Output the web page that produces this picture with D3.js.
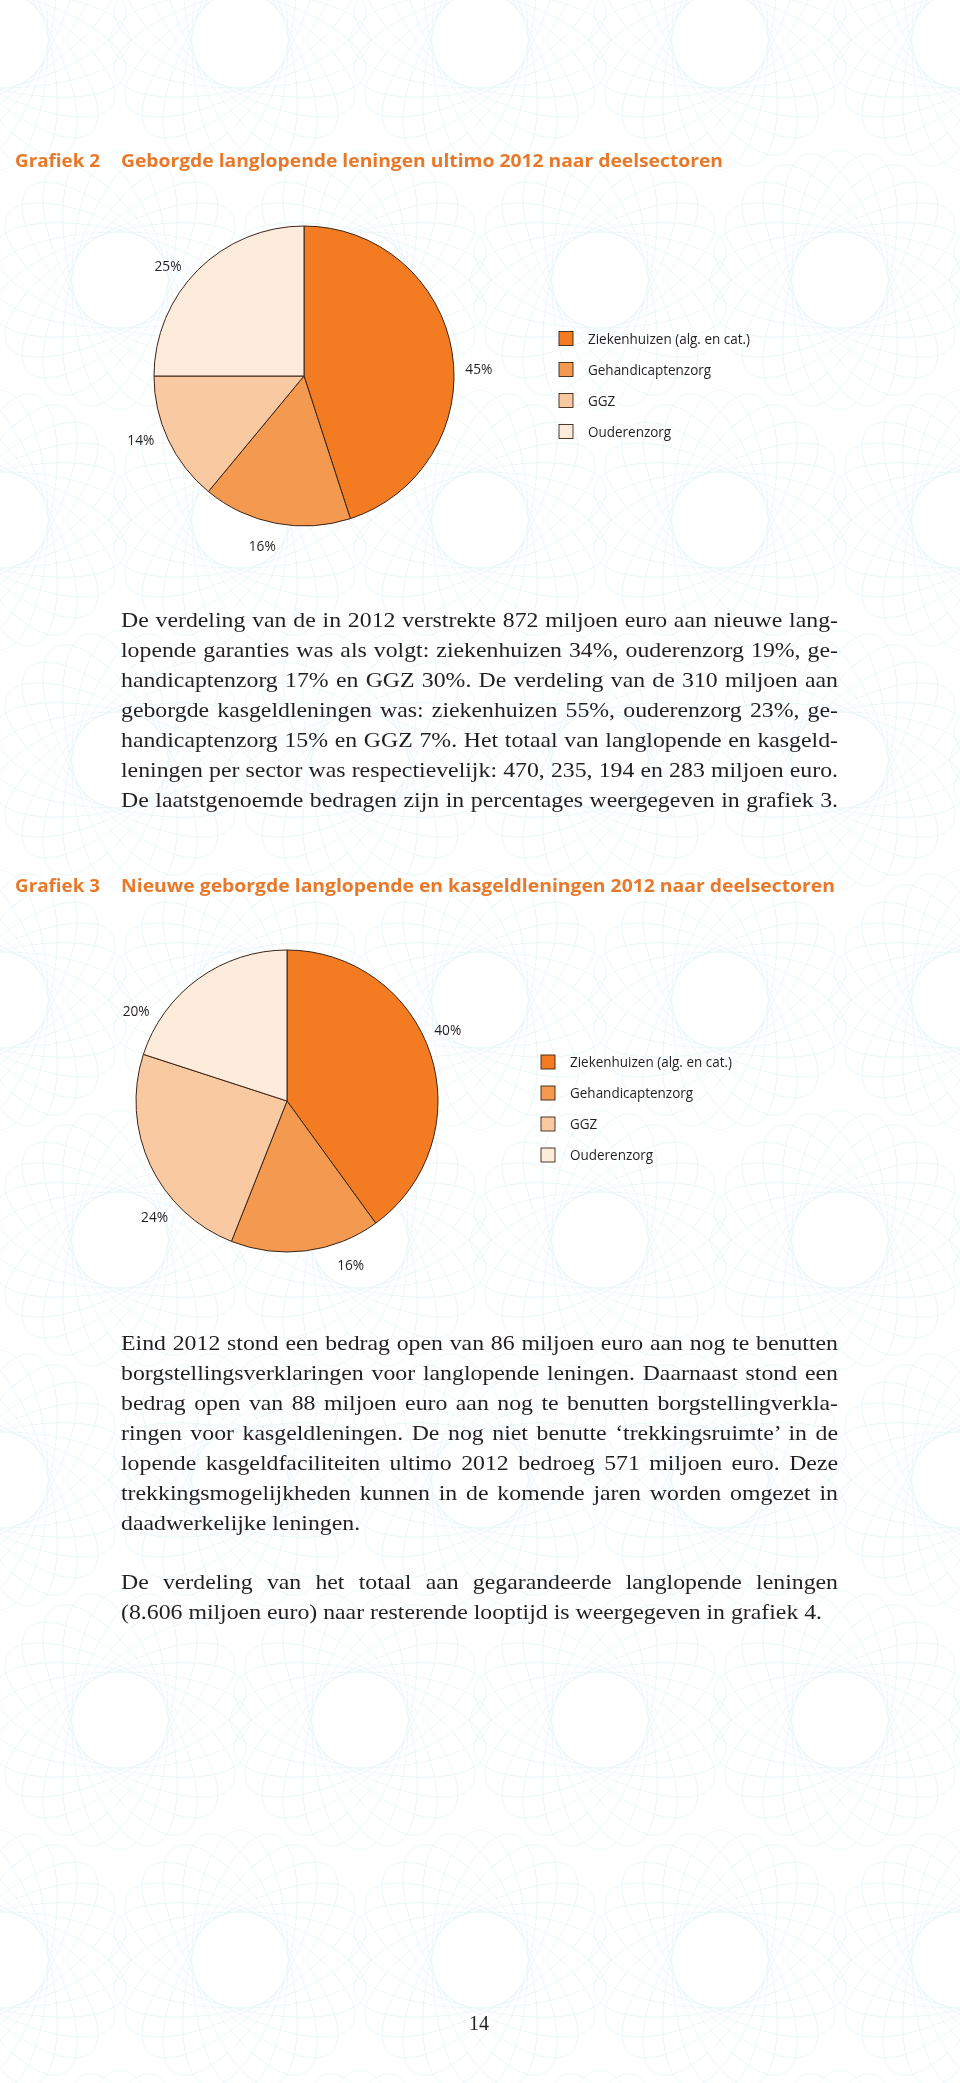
<!DOCTYPE html>
<html><head><meta charset="utf-8">
<script src="https://cdn.jsdelivr.net/npm/d3@7"></script>
<style>html,body{margin:0;padding:0;background:#fff} svg{display:block}</style>
</head><body><div id="page"></div>
<script>
// ---------------- DATA ----------------
const categories = ["Ziekenhuizen (alg. en cat.)", "Gehandicaptenzorg", "GGZ", "Ouderenzorg"];
const grafiek2Values = [45, 16, 14, 25];
const grafiek3Values = [40, 16, 24, 20];
const grafiek2Title = ["Grafiek 2", "Geborgde langlopende leningen ultimo 2012 naar deelsectoren"];
const grafiek3Title = ["Grafiek 3", "Nieuwe geborgde langlopende en kasgeldleningen 2012 naar deelsectoren"];
const paragraph1 = [
  "De verdeling van de in 2012 verstrekte 872 miljoen euro aan nieuwe lang-",
  "lopende garanties was als volgt: ziekenhuizen 34%, ouderenzorg 19%, ge-",
  "handicaptenzorg 17% en GGZ 30%. De verdeling van de 310 miljoen aan",
  "geborgde kasgeldleningen was: ziekenhuizen 55%, ouderenzorg 23%, ge-",
  "handicaptenzorg 15% en GGZ 7%. Het totaal van langlopende en kasgeld-",
  "leningen per sector was respectievelijk: 470, 235, 194 en 283 miljoen euro.",
  "De laatstgenoemde bedragen zijn in percentages weergegeven in grafiek 3."
];
const paragraph2 = [
  "Eind 2012 stond een bedrag open van 86 miljoen euro aan nog te benutten",
  "borgstellingsverklaringen voor langlopende leningen. Daarnaast stond een",
  "bedrag open van 88 miljoen euro aan nog te benutten borgstellingverkla-",
  "ringen voor kasgeldleningen. De nog niet benutte \u2018trekkingsruimte\u2019 in de",
  "lopende kasgeldfaciliteiten ultimo 2012 bedroeg 571 miljoen euro. Deze",
  "trekkingsmogelijkheden kunnen in de komende jaren worden omgezet in",
  "daadwerkelijke leningen."
];
const paragraph3 = [
  "De verdeling van het totaal aan gegarandeerde langlopende leningen",
  "(8.606 miljoen euro) naar resterende looptijd is weergegeven in grafiek 4."
];
const pageNumber = "14";

// ---------------- STYLE / LAYOUT ----------------
const W = 960, H = 2083;
const sliceColors = ["#F37B21", "#F49A50", "#F9C9A2", "#FDEBDC"];
const strokeColor = "#3a2416";
const textColor = "#231f20";
const titleColor = "#E8792B";
const sansFont = "'Open Sans', 'Noto Sans', sans-serif";
const serifFont = "'Liberation Serif', 'DejaVu Serif', serif";

const svg = d3.select("#page").append("svg").attr("width", W).attr("height", H);

// faint decorative background (guilloche-like)
const bg = svg.append("g").attr("fill", "none").attr("stroke", "#bfe2ee")
  .attr("stroke-width", 0.7).attr("opacity", 0.4);
const tileX = d3.range(0, W + 240, 240), tileY = d3.range(40, H + 240, 240);
tileY.forEach((cy, j) => tileX.forEach(cx => {
  const x0 = cx + (j % 2 ? 120 : 0);
  d3.range(0, 180, 15).forEach(a => {
    bg.append("ellipse").attr("cx", x0).attr("cy", cy).attr("rx", 130).attr("ry", 48)
      .attr("transform", `rotate(${a},${x0},${cy})`);
  });
}));

// ---------------- TITLES ----------------
function drawTitle(lines, baseline, labelW, textW) {
  const g = svg.append("g").attr("fill", titleColor)
    .style("font-family", sansFont).style("font-weight", 700).style("font-size", "18px");
  g.append("text").attr("x", 15).attr("y", baseline).text(lines[0])
    .attr("textLength", labelW).attr("lengthAdjust", "spacingAndGlyphs");
  g.append("text").attr("x", 121).attr("y", baseline).text(lines[1])
    .attr("textLength", textW).attr("lengthAdjust", "spacingAndGlyphs");
}
drawTitle(grafiek2Title, 167, 85, 602);
drawTitle(grafiek3Title, 892, 85, 714);

// ---------------- PIES ----------------
function drawPie(values, cx, cy, r, labelR, nudges, legendX, legendY) {
  const pie = d3.pie().sort(null).value(d => d);
  const arcs = pie(values);
  const arc = d3.arc().innerRadius(0).outerRadius(r);
  const g = svg.append("g").attr("transform", `translate(${cx},${cy})`);
  g.selectAll("path").data(arcs).join("path")
    .attr("d", arc)
    .attr("fill", (d, i) => sliceColors[i])
    .attr("stroke", strokeColor).attr("stroke-width", 1).attr("stroke-linejoin", "round");

  g.selectAll("text.lbl").data(arcs).join("text").attr("class", "lbl")
    .attr("transform", (d, i) => {
      const mid = (d.startAngle + d.endAngle) / 2 + nudges[i] * Math.PI / 180;
      const a = d3.arc().innerRadius(labelR).outerRadius(labelR)
        .startAngle(mid).endAngle(mid);
      const c = a.centroid();
      return `translate(${c[0]},${c[1]})`;
    })
    .attr("text-anchor", "middle").attr("dy", "0.36em")
    .style("font-family", sansFont).style("font-size", "15px").attr("fill", textColor)
    .text(d => d.data + "%")
    .attr("textLength", 27).attr("lengthAdjust", "spacingAndGlyphs");

  // legend
  const lg = svg.append("g").attr("transform", `translate(${legendX},${legendY})`);
  const rows = lg.selectAll("g").data(categories).join("g")
    .attr("transform", (d, i) => `translate(0,${i * 31})`);
  rows.append("rect").attr("x", 0).attr("y", -7).attr("width", 14).attr("height", 14)
    .attr("fill", (d, i) => sliceColors[i]).attr("stroke", strokeColor).attr("stroke-width", 0.9);
  const txt = rows.append("text").attr("x", 29).attr("dy", "0.36em")
    .style("font-family", sansFont).style("font-size", "15px").attr("fill", textColor)
    .text(d => d);
  const first = txt.nodes()[0].getComputedTextLength();
  const k = 162 / first;
  txt.each(function () {
    const w = this.getComputedTextLength();
    d3.select(this).attr("textLength", w * k).attr("lengthAdjust", "spacingAndGlyphs");
  });
}
drawPie(grafiek2Values, 304, 376, 150, 175, [6.5, 3, 4, -6], 559, 338.5);
drawPie(grafiek3Values, 287, 1101, 151, 176, [-6, -14, -16, -23], 541, 1062);

// ---------------- BODY TEXT ----------------
const left = 121, right = 838, lineH = 30, bodySize = 21.6;
const bodyG = svg.append("g").style("font-family", serifFont).attr("fill", textColor)
  .style("font-size", bodySize + "px");
// horizontal condensing so the unjustified last line of paragraph 3 matches its width
const probe = bodyG.append("text").text(paragraph3[1]);
const sx = 701 / probe.node().getComputedTextLength();
probe.remove();
bodyG.attr("transform", `translate(${left},0) scale(${sx},1)`);
const target = (right - left) / sx;

function drawParagraph(lines, firstBaseline, justifyLast) {
  lines.forEach((line, i) => {
    const t = bodyG.append("text").attr("x", 0).attr("y", firstBaseline + i * lineH).text(line);
    const isLast = i === lines.length - 1;
    if (!isLast || justifyLast) {
      const w = t.node().getComputedTextLength();
      const spaces = (line.match(/ /g) || []).length;
      if (spaces > 0) t.style("word-spacing", ((target - w) / spaces) + "px");
    }
  });
}
drawParagraph(paragraph1, 627, true);
drawParagraph(paragraph2, 1350, false);
drawParagraph(paragraph3, 1589, false);

svg.append("text").attr("x", 479).attr("y", 2030).attr("text-anchor", "middle")
  .style("font-family", serifFont).style("font-size", "20px").attr("fill", textColor)
  .text(pageNumber);
</script>
</body></html>
